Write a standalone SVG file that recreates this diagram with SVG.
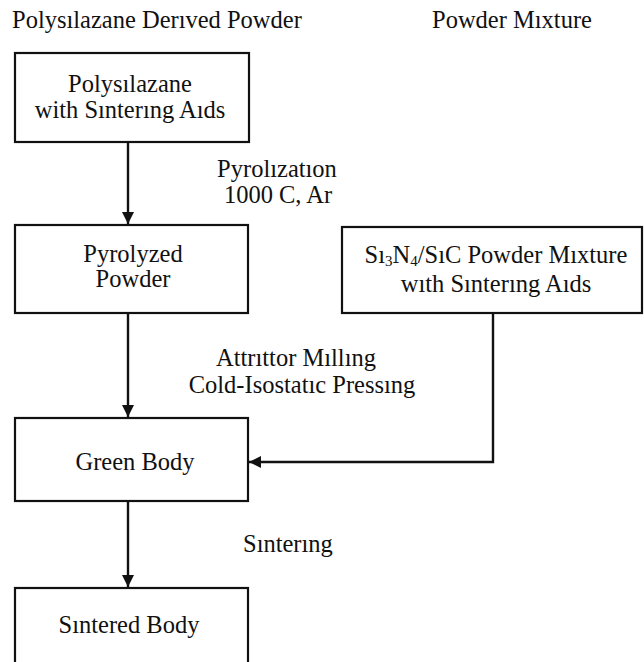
<svg xmlns="http://www.w3.org/2000/svg" width="644" height="662" viewBox="0 0 644 662">
<style>
text{font-family:"Liberation Serif","Times New Roman",serif;font-size:24.5px;fill:#111}
.c{text-anchor:middle}
.sub{font-size:15px}
.box{fill:#fff;stroke:#111;stroke-width:2.2}
.edge{fill:none;stroke:#111;stroke-width:2.4}
</style>
<defs>
<marker id="ah" markerUnits="userSpaceOnUse" markerWidth="14" markerHeight="14" refX="12" refY="6" orient="auto">
<path d="M0,0 L12,6 L0,12 Z" fill="#111"/>
</marker>
</defs>
<rect width="644" height="662" fill="#fff"/>
<g id="headers">
<text x="12" y="28">Polysılazane Derıved Powder</text>
<text x="432" y="28">Powder Mıxture</text>
</g>
<g id="connectors">
<path class="edge" d="M128,142 V224" marker-end="url(#ah)"/>
<path class="edge" d="M128,313 V417" marker-end="url(#ah)"/>
<path class="edge" d="M128,501 V587" marker-end="url(#ah)"/>
<path class="edge" d="M493,313 V462 H249" marker-end="url(#ah)"/>
</g>
<g id="node-polysilazane">
<rect class="box" x="15" y="53" width="234" height="89"/>
<text class="c" x="130" y="92">Polysılazane</text>
<text class="c" x="130" y="118">with Sınterıng Aıds</text>
</g>
<g id="node-pyrolyzed">
<rect class="box" x="15" y="225" width="233" height="88"/>
<text class="c" x="133" y="262">Pyrolyzed</text>
<text class="c" x="133" y="287">Powder</text>
</g>
<g id="node-mixture">
<rect class="box" x="342" y="227" width="300" height="86"/>
<text class="c" x="496" y="263">Sı<tspan class="sub" dy="3">3</tspan><tspan dy="-3">N</tspan><tspan class="sub" dy="3">4</tspan><tspan dy="-3">/SıC Powder Mıxture</tspan></text>
<text class="c" x="496" y="292">wıth Sınterıng Aıds</text>
</g>
<g id="node-green">
<rect class="box" x="15" y="418" width="233" height="83"/>
<text class="c" x="135" y="470">Green Body</text>
</g>
<g id="node-sintered">
<rect class="box" x="15" y="588" width="233" height="90"/>
<text class="c" x="129" y="633">Sıntered Body</text>
</g>
<g id="labels">
<text class="c" x="277" y="177">Pyrolızatıon</text>
<text class="c" x="278" y="203">1000 C, Ar</text>
<text class="c" x="296" y="366">Attrıttor Mıllıng</text>
<text class="c" x="302" y="393">Cold-Isostatıc Pressıng</text>
<text x="243" y="552">Sınterıng</text>
</g>
</svg>
